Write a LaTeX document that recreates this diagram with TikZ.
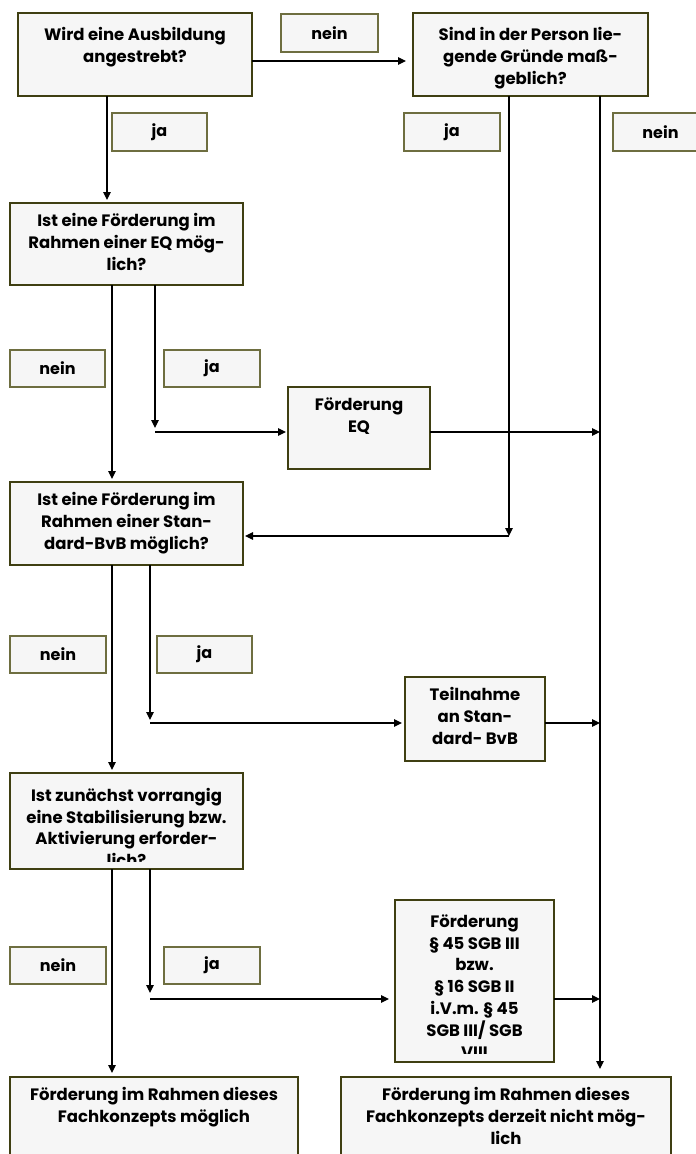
\documentclass[tikz,border=0pt]{standalone}
\usepackage{fontspec}
\setmainfont{Poppins}
\usetikzlibrary{arrows.meta,calc}

\definecolor{rahmen}{HTML}{3F3F12}
\definecolor{antwortrahmen}{HTML}{6E6E40}
\definecolor{fuellung}{HTML}{F6F6F6}

\tikzset{every picture/.style={line width=1.2pt}}
\tikzset{
  frage/.style={draw=rahmen, line width=2.4pt, fill=fuellung, inner sep=0pt, outer sep=0pt, anchor=north west},
  antwort/.style={draw=antwortrahmen, line width=1.3pt, fill=fuellung, inner sep=0pt, outer sep=0pt, anchor=north west, font=\bfseries\fontsize{16}{18}\selectfont},
  boxtext/.style={anchor=north, align=center, inner sep=0pt, font=\bfseries\fontsize{16.5}{21.8}\selectfont},
  pfeil/.style={-{Triangle[length=8pt,width=7.5pt]}, line width=1.2pt},
}

\begin{document}
\begin{tikzpicture}[x=1pt,y=1pt,yscale=-1]
\useasboundingbox (0,0) rectangle (696,1154);

% columns and rows of the connectors
\coordinate (jaA) at (107,0);
\coordinate (neinSp) at (112,0);
\coordinate (jaC) at (155,0);
\coordinate (jaD) at (150,0);
\coordinate (jaP) at (509,0);
\coordinate (neinP) at (600,0);
\coordinate (zeileA) at (0,61);
\coordinate (zeileEQ) at (0,432);
\coordinate (zeileP) at (0,536);
\coordinate (zeileBvB) at (0,723);
\coordinate (zeileF) at (0,999);

% Fragen
\node[frage, minimum width=234pt, minimum height=83pt] (ausbildung) at (18,13) {};
\node[boxtext] at ($(ausbildung.north)+(0,14)$) {Wird eine Ausbildung\\angestrebt?};

\node[frage, minimum width=235pt, minimum height=83pt] (person) at (413,13) {};
\node[boxtext] at ($(person.north)+(0,14)$) {Sind in der Person lie-\\gende Gründe maß-\\geblich?};

\node[frage, minimum width=233pt, minimum height=82pt] (eqfrage) at (10,203) {};
\node[boxtext] at ($(eqfrage.north)+(0,10)$) {Ist eine Förderung im\\Rahmen einer EQ mög-\\lich?};

\node[frage, minimum width=142pt, minimum height=82pt] (eq) at (288,387) {};
\node[boxtext] at ($(eq.north)+(0,10)$) {Förderung\\EQ};

\node[frage, minimum width=233pt, minimum height=83pt] (bvbfrage) at (10,482) {};
\node[boxtext] at ($(bvbfrage.north)+(0,10)$) {Ist eine Förderung im\\Rahmen einer Stan-\\dard-BvB möglich?};

\node[frage, minimum width=140pt, minimum height=84pt] (bvb) at (405,677) {};
\node[boxtext] at ($(bvb.north)+(0,10)$) {Teilnahme\\an Stan-\\dard- BvB};

\node[frage, minimum width=233pt, minimum height=96pt] (stabfrage) at (10,773) {};
\begin{scope}
  \clip (stabfrage.north west) rectangle ($(stabfrage.south east)+(0,-8)$);
  \node[boxtext] at ($(stabfrage.north)+(0,14.5)$) {Ist zunächst vorrangig\\eine Stabilisierung bzw.\\Aktivierung erforder-\\lich?};
\end{scope}

\node[frage, minimum width=159pt, minimum height=162pt] (foerderung) at (395,900) {};
\begin{scope}
  \clip (foerderung.north west) rectangle ($(foerderung.south east)+(0,-9)$);
  \node[boxtext] at ($(foerderung.north)+(0,14)$) {Förderung\\§ 45 SGB III\\bzw.\\§ 16 SGB II\\i.V.m. § 45\\SGB III/ SGB\\VIII};
\end{scope}

\node[frage, minimum width=288pt, minimum height=95pt] (moeglich) at (10,1077) {};
\node[boxtext] at ($(moeglich.north)+(0,10)$) {Förderung im Rahmen dieses\\Fachkonzepts möglich};

\node[frage, minimum width=330pt, minimum height=95pt] (nichtmoeglich) at (341,1077) {};
\node[boxtext] at ($(nichtmoeglich.north)+(0,10)$) {Förderung im Rahmen dieses\\Fachkonzepts derzeit nicht mög-\\lich};

% Antworten
\node[antwort, minimum width=97pt, minimum height=38pt] (neinA) at (281,14) {nein};
\node[antwort, minimum width=95pt, minimum height=38pt] (jaAntA) at (112,113) {ja};
\node[antwort, minimum width=96pt, minimum height=38pt] (jaAntP) at (404,113) {ja};
\node[antwort, minimum width=95pt, minimum height=38pt] (neinAntP) at (613,113) {nein};
\node[antwort, minimum width=95pt, minimum height=37pt] (neinAntC) at (10,350) {nein};
\node[antwort, minimum width=96pt, minimum height=37pt] (jaAntC) at (164,350) {ja};
\node[antwort, minimum width=96pt, minimum height=37pt] (neinAntD) at (10,636) {nein};
\node[antwort, minimum width=95pt, minimum height=37pt] (jaAntD) at (157,636) {ja};
\node[antwort, minimum width=96pt, minimum height=37pt] (neinAntE) at (10,947) {nein};
\node[antwort, minimum width=96pt, minimum height=37pt] (jaAntE) at (164,947) {ja};

% Verbindungen
\draw[pfeil, shorten >=7pt] (ausbildung.east |- zeileA) -- (person.west |- zeileA);
\draw[pfeil, shorten >=3pt] (jaA |- ausbildung.south) -- (jaA |- eqfrage.north);

\draw[pfeil, shorten >=3pt] (neinSp |- eqfrage.south) -- (neinSp |- bvbfrage.north);
\draw[pfeil, shorten >=4pt] (jaC |- eqfrage.south) -- (jaC |- zeileEQ);
\draw[pfeil, shorten >=2pt] (jaC |- zeileEQ) -- (eq.west |- zeileEQ);
\draw[pfeil] (eq.east |- zeileEQ) -- (neinP |- zeileEQ);

\draw[pfeil] (jaP |- person.south) -- (jaP |- zeileP);
\draw[pfeil, shorten >=2pt] (jaP |- zeileP) -- (bvbfrage.east |- zeileP);
\draw[pfeil, shorten >=8pt] (neinP |- person.south) -- (neinP |- nichtmoeglich.north);

\draw[pfeil, shorten >=3pt] (neinSp |- bvbfrage.south) -- (neinSp |- stabfrage.north);
\draw[pfeil, shorten >=3pt] (jaD |- bvbfrage.south) -- (jaD |- zeileBvB);
\draw[pfeil, shorten >=3pt] (jaD |- zeileBvB) -- (bvb.west |- zeileBvB);
\draw[pfeil] (bvb.east |- zeileBvB) -- (neinP |- zeileBvB);

\draw[pfeil, shorten >=4pt] (neinSp |- stabfrage.south) -- (neinSp |- moeglich.north);
\draw[pfeil, shorten >=6pt] (jaD |- stabfrage.south) -- (jaD |- zeileF);
\draw[pfeil, shorten >=6pt] (jaD |- zeileF) -- (foerderung.west |- zeileF);
\draw[pfeil] (foerderung.east |- zeileF) -- (neinP |- zeileF);

\end{tikzpicture}
\end{document}
